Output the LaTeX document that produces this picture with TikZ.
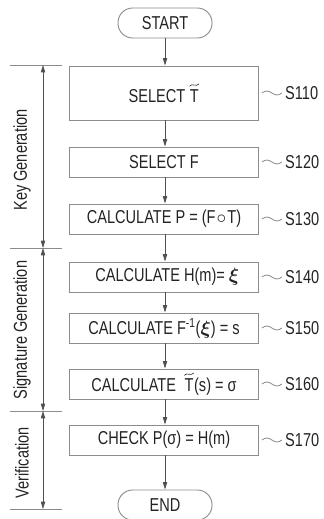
\documentclass[tikz,border=0pt]{standalone}
\usepackage{amsmath}
\usepackage{bm}
\usepackage{fontspec}
\setmainfont{Liberation Sans}[FakeStretch=0.78]
\usetikzlibrary{arrows.meta}
\definecolor{frame}{RGB}{140,140,140}
\definecolor{flowline}{RGB}{80,80,80}
\definecolor{ink}{RGB}{35,35,35}
% a capital T with a wide tilde drawn above it
\newcommand{\tildeT}{\tikz[baseline=(tglyph.base), x=1pt, y=1pt]{%
  \node[inner sep=0pt, anchor=base, draw=none, shape=rectangle,
    minimum width=0pt, minimum height=0pt] (tglyph) at (0,0) {T};
  \draw[draw=ink, line width=0.45pt] ([yshift=2.2pt]tglyph.north west)
    .. controls +(1.2,1.6) and +(-1.6,0) .. ([xshift=-0.3pt,yshift=3.1pt]tglyph.north)
    .. controls +(1.6,0) and +(-1.2,-1.6) .. ([yshift=4pt]tglyph.north east);}}
\begin{document}
\begin{tikzpicture}[x=0.75pt,y=-0.75pt,
  every node/.style={font=\fontsize{14}{16}\selectfont, text=ink},
  stepbox/.style={draw=frame, line width=0.7pt, minimum width=141.75pt,
    minimum height=22.5pt, inner sep=0pt},
  termbox/.style={draw=frame, line width=0.7pt, rounded corners=11pt,
    minimum width=70.5pt, minimum height=22.5pt, inner sep=0pt},
  flow/.style={draw=flowline, line width=0.6pt,
    -{Triangle[length=5.5pt,width=3.2pt]}},
  span/.style={draw=flowline, line width=0.6pt,
    {Triangle[length=5.5pt,width=3.2pt]}-{Triangle[length=5.5pt,width=3.2pt]}},
  tick/.style={draw=frame, line width=0.6pt},
  wave/.style={draw=frame, line width=0.6pt},
  steplabel/.style={anchor=west, inner sep=0pt},
  phase/.style={rotate=90, inner sep=0pt}]
\useasboundingbox (0,0) rectangle (324,519);

% flow chart
\node[termbox] (start) at (165,23) {START};
\node[stepbox, minimum height=40.5pt] (s110) at (164,93) {SELECT \tildeT};
\node[stepbox] (s120) at (164,162) {SELECT F};
\node[stepbox] (s130) at (164,219) {CALCULATE P = (F$\mkern1mu{\circ}\mkern1mu$T)};
\node[stepbox] (s140) at (164,277) {\hspace{5pt}CALCULATE H(m)= $\bm{\xi}$};
\node[stepbox] (s150) at (164,328) {CALCULATE F\textsuperscript{-1}($\bm{\xi}$) = s};
\node[stepbox] (s160) at (164,384) {CALCULATE\ \ \tildeT(s) = σ};
\node[stepbox] (s170) at (164,440) {CHECK P(σ) = H(m)};
\node[termbox] (end) at (165,505) {END};

\draw[flow] (start.south) -- (start.south |- s110.north);
\draw[flow] (start.south |- s110.south) -- (start.south |- s120.north);
\draw[flow] (start.south |- s120.south) -- (start.south |- s130.north);
\draw[flow] (start.south |- s130.south) -- (start.south |- s140.north);
\draw[flow] (start.south |- s140.south) -- (start.south |- s150.north);
\draw[flow] (start.south |- s150.south) -- (start.south |- s160.north);
\draw[flow] (start.south |- s160.south) -- (start.south |- s170.north);
\draw[flow] (start.south |- s170.south) -- (end.north);

% step numbers with wavy leaders
\foreach \s in {110,120,130,140,150,160,170}{
  \node[steplabel] (l\s) at ([xshift=19.5pt]s\s.east) {S\s};
  \draw[wave] ([xshift=2.2pt]s\s.east) sin ++(5,-2) cos ++(5,2)
    sin ++(5,2) cos ++(5,-2);
}

% phase brackets
\coordinate (t0) at (43,65);
\coordinate (t1) at (43,248);
\coordinate (t2) at (43,411);
\coordinate (t3) at (43,509);
\foreach \t in {t0,t1,t2,t3}{
  \draw[tick] ([xshift=-24.75pt]\t) -- ([xshift=14.25pt]\t);
}
\draw[span] (t0) -- (t1);
\draw[span] (t1) -- (t2);
\draw[span] (t2) -- (t3);
\node[phase] (kg) at (22,160) {Key Generation};
\node[phase] (sg) at (22,330) {Signature Generation};
\node[phase] (vf) at (22,463) {Verification};
\end{tikzpicture}
\end{document}
